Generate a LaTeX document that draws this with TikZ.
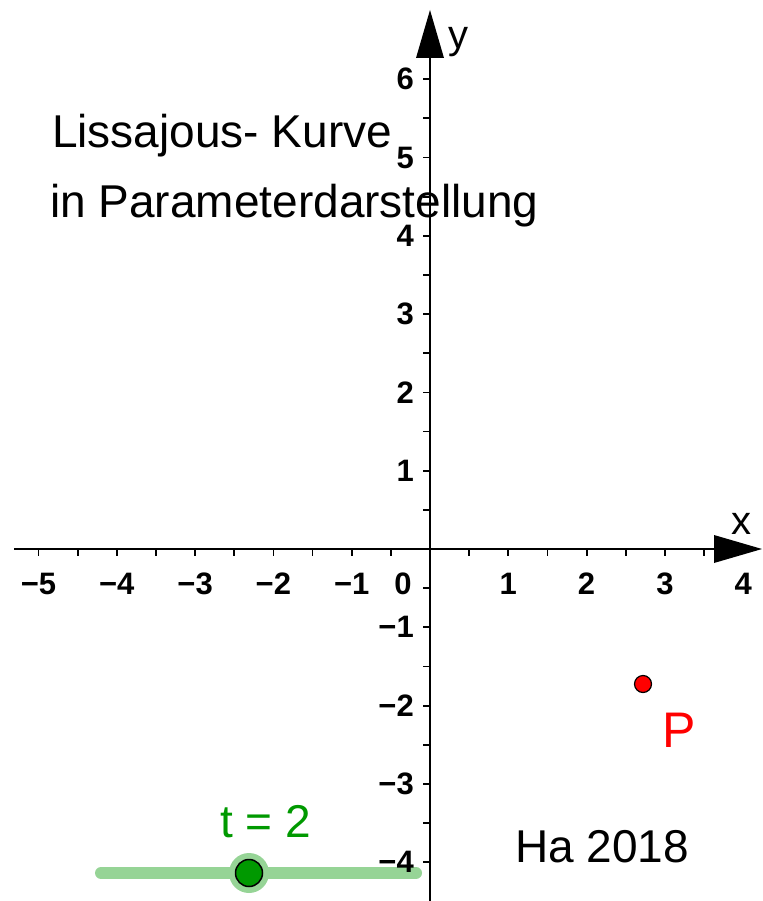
\documentclass[tikz,border=0pt]{standalone}
\usepackage{fontspec}
\setmainfont{Liberation Sans}
\definecolor{ggreen}{RGB}{0,153,0}
\definecolor{lgreen}{RGB}{150,212,150}
\definecolor{pred}{RGB}{255,0,0}
\begin{document}
\begin{tikzpicture}[x=1pt,y=-1pt,
  axisline/.style={line width=2.6pt,black},
  tickmark/.style={line width=1.8pt,black},
  ticklab/.style={font=\fontsize{31}{31}\selectfont\bfseries,inner sep=0pt},
  bigtext/.style={font=\fontsize{46}{46}\selectfont,inner sep=0pt,anchor=base west}]
\useasboundingbox (0,0) rectangle (762,901);
% slider line (behind the axis labels)
\coordinate (sa) at (101,873);
\coordinate (sb) at (416,873);
\draw[lgreen,line width=12pt,line cap=round] (sa) -- (sb);
% axes
\coordinate (xs) at (14,549);
\coordinate (xb) at (714,549);
\coordinate (ys) at (430,901);
\coordinate (yb) at (430,58);
\draw[axisline] (xs) -- (xb);
\draw[axisline] (ys) -- (yb);
\fill (714,535) -- (762,549) -- (714,563) -- cycle;
\fill (416,58) -- (430,10) -- (444,58) -- cycle;
\node[font=\fontsize{40}{40}\selectfont,inner sep=0pt] (xl) at (741,524) {x};
\node[font=\fontsize{40}{40}\selectfont,inner sep=0pt] (yl) at (458,42) {y};
% ticks
\foreach \i in {-11,...,-1,1,2,...,7}
  \draw[tickmark] (430+\i*39.15,549) -- (430+\i*39.15,556);
\foreach \i in {-8,...,-1,1,2,...,12}
  \draw[tickmark] (423,549-\i*39.15) -- (430,549-\i*39.15);
% tick labels
\foreach \k in {-5,...,-1}
  \node[ticklab] (xk\k) at (430+\k*78.3,584) {−\the\numexpr-\k\relax};
\foreach \k in {1,...,4}
  \node[ticklab] (xk\k) at (430+\k*78.3,584) {\k};
\node[ticklab] (zero) at (403,584) {0};
\foreach \k in {1,...,6}
  \node[ticklab,anchor=east] (yk\k) at (414,549-\k*78.3) {\k};
\foreach \k in {-4,...,-1}
  \node[ticklab,anchor=east] (yk\k) at (414,549-\k*78.3) {−\the\numexpr-\k\relax};
% title
\node[bigtext] (t1) at (52,148) {Lissajous- Kurve};
\node[bigtext] (t2) at (50,218) {in Parameterdarstellung};
% point P
\node[circle,fill=pred,draw=black,line width=1.2pt,minimum size=17pt,inner sep=0pt] (P) at (643,684) {};
\node[font=\fontsize{50}{50}\selectfont,text=pred,inner sep=0pt,anchor=base west] (Pl) at (662,747) {P};
% signature
\node[bigtext] (ha) at (515,862) {Ha 2018};
% slider knob
\fill[lgreen] (249,873) circle (20pt);
\node[circle,fill=ggreen,draw=black,line width=1.5pt,minimum size=27pt,inner sep=0pt] (knob) at (249,873) {};
\node[font=\fontsize{46}{46}\selectfont,text=ggreen,inner sep=0pt,anchor=base west] (tl) at (220,837) {t = 2};
\end{tikzpicture}
\end{document}
